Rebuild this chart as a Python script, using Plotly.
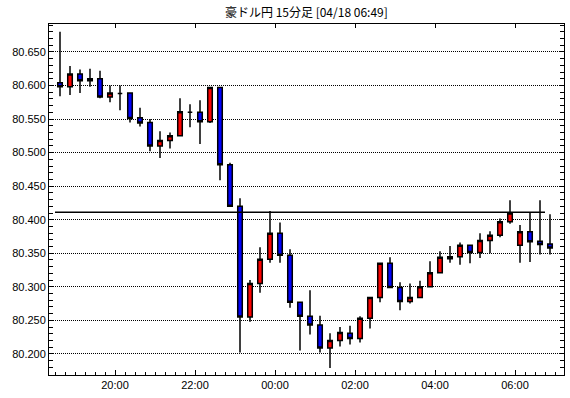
import pandas as pd
import plotly.graph_objects as go

# ---- data ----
start_time = "2024-04-17 18:30"
n_candles = 50
times = pd.date_range(start_time, periods=n_candles, freq="15min")

opens = [80.604, 80.598, 80.617, 80.607, 80.610, 80.583, 80.588, 80.589, 80.552, 80.545,
         80.510, 80.518, 80.525, 80.560, 80.560, 80.546, 80.597, 80.482, 80.420, 80.255,
         80.305, 80.341, 80.380, 80.347, 80.277, 80.256, 80.243, 80.209, 80.220, 80.231,
         80.223, 80.253, 80.284, 80.335, 80.299, 80.278, 80.284, 80.300, 80.321, 80.342,
         80.345, 80.362, 80.351, 80.369, 80.377, 80.397, 80.362, 80.382, 80.368, 80.364]
highs = [80.680, 80.629, 80.624, 80.625, 80.622, 80.600, 80.600, 80.590, 80.567, 80.550,
         80.532, 80.530, 80.581, 80.572, 80.578, 80.598, 80.598, 80.485, 80.432, 80.310,
         80.359, 80.413, 80.396, 80.356, 80.277, 80.295, 80.257, 80.231, 80.240, 80.242,
         80.256, 80.285, 80.335, 80.344, 80.307, 80.305, 80.309, 80.338, 80.353, 80.361,
         80.366, 80.362, 80.380, 80.383, 80.402, 80.429, 80.392, 80.410, 80.429, 80.408]
lows = [80.584, 80.586, 80.589, 80.598, 80.581, 80.575, 80.563, 80.545, 80.539, 80.502,
        80.492, 80.506, 80.524, 80.538, 80.513, 80.544, 80.459, 80.419, 80.202, 80.248,
        80.291, 80.336, 80.336, 80.269, 80.205, 80.229, 80.202, 80.179, 80.211, 80.214,
        80.217, 80.238, 80.277, 80.299, 80.265, 80.275, 80.284, 80.300, 80.321, 80.336,
        80.333, 80.335, 80.343, 80.350, 80.374, 80.394, 80.336, 80.337, 80.348, 80.348]
closes = [80.598, 80.617, 80.607, 80.610, 80.583, 80.589, 80.588, 80.551, 80.544, 80.510,
          80.518, 80.525, 80.561, 80.560, 80.546, 80.597, 80.482, 80.420, 80.255, 80.305,
          80.341, 80.380, 80.347, 80.277, 80.256, 80.243, 80.209, 80.220, 80.232, 80.223,
          80.253, 80.284, 80.335, 80.299, 80.278, 80.284, 80.300, 80.321, 80.344, 80.345,
          80.362, 80.351, 80.369, 80.377, 80.397, 80.410, 80.382, 80.367, 80.363, 80.358]

ref_line_price = 80.4112
y_tick_values = [80.200, 80.250, 80.300, 80.350, 80.400, 80.450, 80.500, 80.550, 80.600, 80.650]
x_tick_times = ["2024-04-17 20:00", "2024-04-17 22:00", "2024-04-18 00:00",
                "2024-04-18 02:00", "2024-04-18 04:00", "2024-04-18 06:00"]
x_tick_labels = ["20:00", "22:00", "00:00", "02:00", "04:00", "06:00"]
title_text = "豪ドル円 15分足 [04/18 06:49]"

x_range = ["2024-04-17 18:21:00", "2024-04-18 07:13:30"]
y_range = [80.1686, 80.6917]

# ---- figure ----
fig = go.Figure()

fig.add_trace(go.Candlestick(
    x=times, open=opens, high=highs, low=lows, close=closes,
    xperiod=15 * 60 * 1000, xperiodalignment="middle",
    increasing=dict(fillcolor="#FF0000", line=dict(color="black", width=1.5)),
    decreasing=dict(fillcolor="#0000FF", line=dict(color="black", width=1.5)),
    whiskerwidth=0, showlegend=False, hoverinfo="skip",
))

fig.add_trace(go.Scatter(
    x=[times[0], times[-1]], y=[ref_line_price, ref_line_price],
    mode="lines", line=dict(color="black", width=1.5),
    showlegend=False, hoverinfo="skip",
))

# invisible trace so that the top axis gets drawn
fig.add_trace(go.Scatter(x=[times[0]], y=[ref_line_price], xaxis="x2",
                         mode="markers", marker=dict(opacity=0),
                         showlegend=False, hoverinfo="skip"))

tick_font = dict(family="Liberation Sans, Arial, sans-serif", size=11, color="black")

fig.update_layout(
    width=570, height=398,
    margin=dict(l=49, r=6, t=24, b=23),
    paper_bgcolor="white", plot_bgcolor="white",
    boxgap=0.35,
    title=dict(text=title_text, x=0.5375, xanchor="center", y=1 - 13 / 398,
               yanchor="middle", yref="container",
               font=dict(family="Noto Sans CJK JP", size=12, color="black")),
    xaxis=dict(
        type="date", range=x_range, rangeslider=dict(visible=False),
        tickvals=x_tick_times, ticktext=x_tick_labels,
        ticks="inside", ticklen=5, tickcolor="black", tickwidth=1,
        minor=dict(dtick=15 * 60 * 1000, tick0="2024-04-17 20:00",
                   ticks="inside", ticklen=3, tickcolor="black", showgrid=False),
        showgrid=False, showline=True, linecolor="black", linewidth=1, mirror=True,
        tickfont=tick_font, zeroline=False,
    ),
    xaxis2=dict(
        type="date", range=x_range, overlaying="x", side="top",
        tickvals=x_tick_times, showticklabels=False,
        ticks="inside", ticklen=4, tickcolor="black",
        showgrid=False, showline=False, zeroline=False,
    ),
    yaxis=dict(
        range=y_range, tickvals=y_tick_values, tickformat=".3f",
        ticks="inside", ticklen=4, tickcolor="black",
        minor=dict(dtick=0.01, tick0=80.2, ticks="inside", ticklen=3,
                   tickcolor="black", showgrid=False),
        showgrid=True, gridcolor="black", gridwidth=1, griddash="1px,1px",
        showline=True, linecolor="black", linewidth=1, mirror="allticks",
        tickfont=tick_font, zeroline=False,
    ),
)

fig.write_html("out.html")
